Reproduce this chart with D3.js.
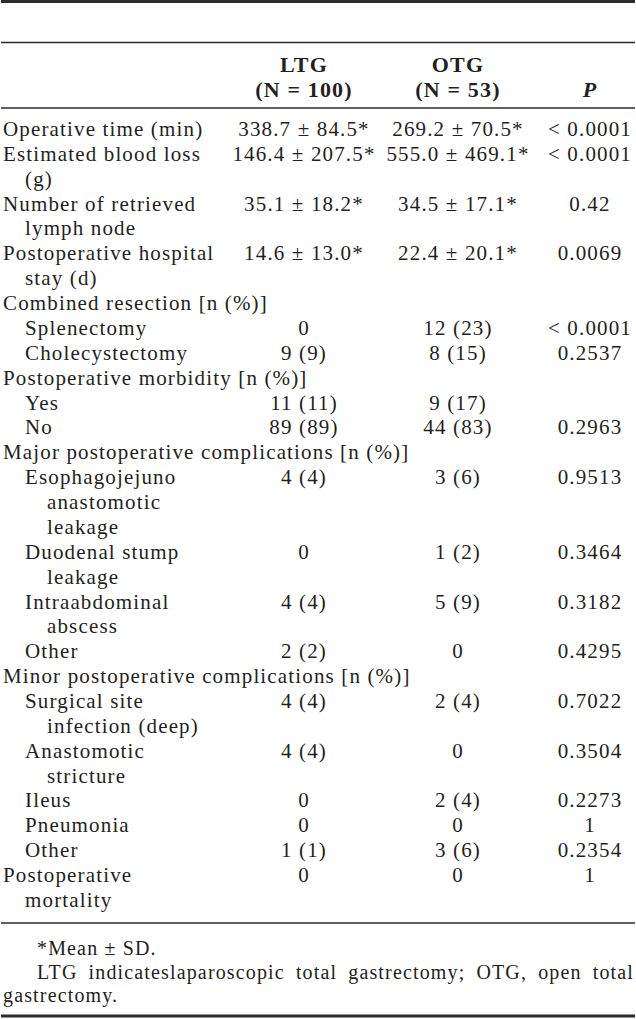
<!DOCTYPE html>
<html>
<head>
<meta charset="utf-8">
<script src="https://cdn.jsdelivr.net/npm/d3@7"></script>
<style>
  body { margin: 0; background: #fff; }
  svg text { font-family: "Liberation Serif", "Times New Roman", serif; fill: #231f20; letter-spacing: 1.15px; }
</style>
</head>
<body>
<div id="table"></div>
<script>
// ---------------------- table content ----------------------
var columns = ["LTG", "OTG", "P"];
var headerTop = ["LTG", "OTG", ""];
var headerBottom = ["(N = 100)", "(N = 53)", "P"];

// "\n" marks where the label wraps in the printed table
var rowLabels = [
  "Operative time (min)",
  "Estimated blood loss\n(g)",
  "Number of retrieved\nlymph node",
  "Postoperative hospital\nstay (d)",
  "Combined resection [n (%)]",
  "Splenectomy",
  "Cholecystectomy",
  "Postoperative morbidity [n (%)]",
  "Yes",
  "No",
  "Major postoperative complications [n (%)]",
  "Esophagojejuno\nanastomotic\nleakage",
  "Duodenal stump\nleakage",
  "Intraabdominal\nabscess",
  "Other",
  "Minor postoperative complications [n (%)]",
  "Surgical site\ninfection (deep)",
  "Anastomotic\nstricture",
  "Ileus",
  "Pneumonia",
  "Other",
  "Postoperative\nmortality"
];
// 0 = main row, 1 = sub row
var rowLevels = [0, 0, 0, 0, 0, 1, 1, 0, 1, 1, 0, 1, 1, 1, 1, 0, 1, 1, 1, 1, 1, 0];

var ltgValues = ["338.7 \u00b1 84.5*", "146.4 \u00b1 207.5*", "35.1 \u00b1 18.2*", "14.6 \u00b1 13.0*",
  "", "0", "9 (9)", "", "11 (11)", "89 (89)", "", "4 (4)", "0", "4 (4)", "2 (2)",
  "", "4 (4)", "4 (4)", "0", "0", "1 (1)", "0"];
var otgValues = ["269.2 \u00b1 70.5*", "555.0 \u00b1 469.1*", "34.5 \u00b1 17.1*", "22.4 \u00b1 20.1*",
  "", "12 (23)", "8 (15)", "", "9 (17)", "44 (83)", "", "3 (6)", "1 (2)", "5 (9)", "0",
  "", "2 (4)", "0", "2 (4)", "0", "3 (6)", "0"];
var pValues = ["< 0.0001", "< 0.0001", "0.42", "0.0069",
  "", "< 0.0001", "0.2537", "", "", "0.2963", "", "0.9513", "0.3464", "0.3182", "0.4295",
  "", "0.7022", "0.3504", "0.2273", "1", "0.2354", "1"];

var footnotes = [
  "*Mean \u00b1 SD.",
  "LTG indicateslaparoscopic total gastrectomy; OTG, open total gastrectomy."
];

// ---------------------- drawing ----------------------
var W = 636, H = 1019;
var fontSize = 21, lineStep = 24.87, firstBaseline = 136;

var svg = d3.select("#table")
  .append("svg")
  .attr("width", W)
  .attr("height", H);

// column centres
var colCenter = d3.scaleOrdinal().domain(columns).range([304, 458, 590]);

// rules
var rules = [
  { y: 1.5, w: 3 },
  { y: 42.5, w: 1.6 },
  { y: 108, w: 1.6 },
  { y: 923, w: 1.6 },
  { y: 1016, w: 3 }
];
svg.selectAll("line.rule")
  .data(rules)
  .enter()
  .append("line")
  .attr("class", "rule")
  .attr("x1", 1).attr("x2", W - 1)
  .attr("y1", d => d.y).attr("y2", d => d.y)
  .style("stroke", "#2b2b2b")
  .style("stroke-width", d => d.w);

// header
var header = svg.append("g").style("font-weight", "bold").style("font-size", "22px");
header.selectAll("text.top")
  .data(columns)
  .enter()
  .append("text")
  .attr("class", "top")
  .attr("x", d => colCenter(d))
  .attr("y", 72)
  .attr("text-anchor", "middle")
  .text((d, i) => headerTop[i]);
header.selectAll("text.bottom")
  .data(columns)
  .enter()
  .append("text")
  .attr("class", "bottom")
  .attr("x", d => colCenter(d))
  .attr("y", 97)
  .attr("text-anchor", "middle")
  .style("font-style", d => d === "P" ? "italic" : "normal")
  .text((d, i) => headerBottom[i]);

// line index of each row start
var lineIndex = [];
var n = 0;
rowLabels.forEach(function (lab) {
  lineIndex.push(n);
  n += lab.split("\n").length;
});
var yLine = d3.scaleLinear().domain([0, 1]).range([firstBaseline, firstBaseline + lineStep]);

var body = svg.append("g").style("font-size", fontSize + "px");

var rows = body.selectAll("g.row")
  .data(rowLabels)
  .enter()
  .append("g")
  .attr("class", "row");

rows.each(function (lab, i) {
  var g = d3.select(this);
  var parts = lab.split("\n");
  var indent = rowLevels[i] * 22;
  parts.forEach(function (p, k) {
    g.append("text")
      .attr("x", 3 + indent + (k > 0 ? 22 : 0))
      .attr("y", yLine(lineIndex[i] + k))
      .text(p);
  });
  [ltgValues[i], otgValues[i], pValues[i]].forEach(function (v, c) {
    if (!v) return;
    g.append("text")
      .attr("x", colCenter(columns[c]))
      .attr("y", yLine(lineIndex[i]))
      .attr("text-anchor", "middle")
      .text(v);
  });
});

// footnotes
var foot = svg.append("g").style("font-size", "20px");
foot.append("text").attr("x", 37).attr("y", 955).text(footnotes[0]);

// justified first line, then remainder
var words = footnotes[1].split(" ");
var firstLine = words.slice(0, 7), rest = words.slice(7).join(" ");
var left = 37, right = 634;
var wordNodes = foot.selectAll("text.w")
  .data(firstLine)
  .enter()
  .append("text")
  .attr("class", "w")
  .attr("y", 979)
  .text(d => d);
var widths = [];
wordNodes.each(function () { widths.push(this.getComputedTextLength()); });
var gap = (right - left - d3.sum(widths)) / (firstLine.length - 1);
var xs = [], cx = left;
widths.forEach(function (w) { xs.push(cx); cx += w + gap; });
wordNodes.attr("x", (d, i) => xs[i]);
foot.append("text").attr("x", 3).attr("y", 1002).text(rest);
</script>
</body>
</html>
